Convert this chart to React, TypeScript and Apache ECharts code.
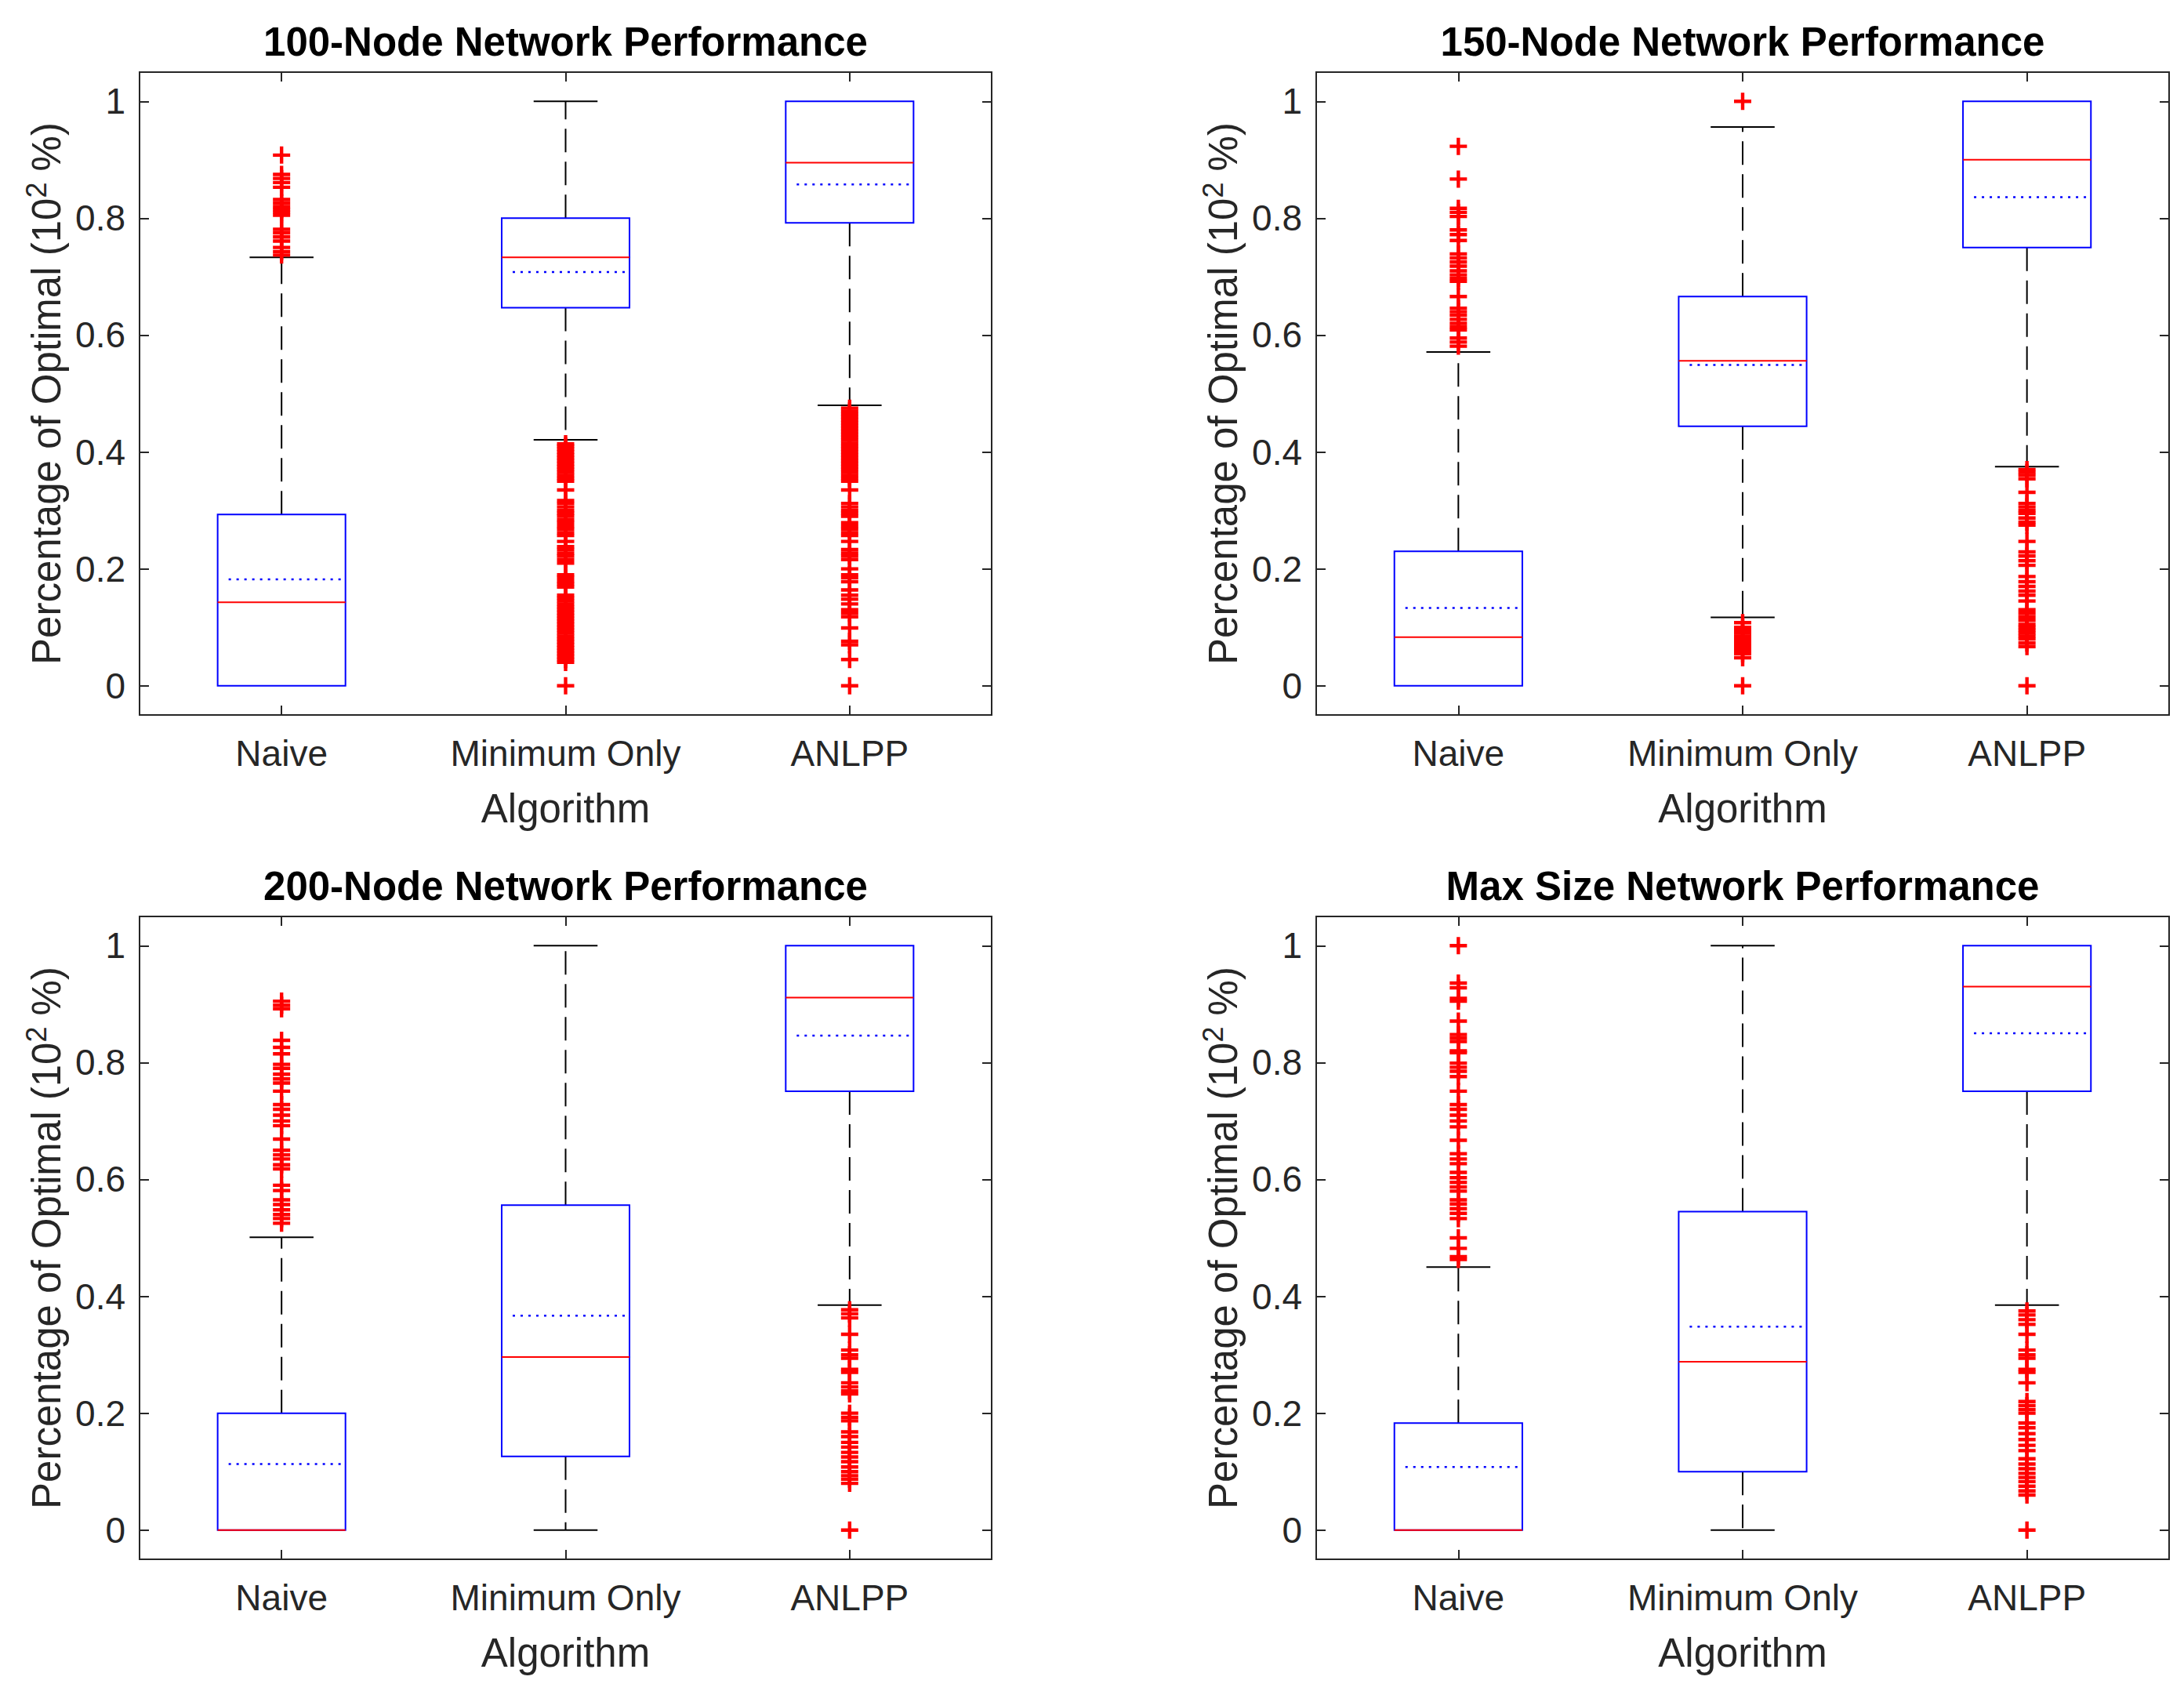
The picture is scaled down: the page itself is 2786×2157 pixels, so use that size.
import React, { useEffect, useRef } from 'react';
import * as echarts from 'echarts';

const categories = ['Naive', 'Minimum Only', 'ANLPP'];
const titles = [
  '100-Node Network Performance',
  '150-Node Network Performance',
  '200-Node Network Performance',
  'Max Size Network Performance',
];
const yTicks = [0, 0.2, 0.4, 0.6, 0.8, 1];
const yName = '{a|Percentage of Optimal (10}{s|2}{a| %)}';
const xName = 'Algorithm';

// per category: [lowerWhisker, Q1, median, Q3, upperWhisker, mean]
const stats100 = [
  [0, 0, 0.143, 0.293, 0.733, 0.182],
  [0.421, 0.647, 0.733, 0.8, 1.0, 0.708],
  [0.48, 0.792, 0.895, 1.0, 1.0, 0.858],
];
const stats150 = [
  [0, 0, 0.083, 0.23, 0.571, 0.133],
  [0.117, 0.444, 0.556, 0.666, 0.956, 0.549],
  [0.375, 0.75, 0.9, 1.0, 1.0, 0.836],
];
const stats200 = [
  [0, 0, 0, 0.2, 0.501, 0.113],
  [0, 0.126, 0.296, 0.556, 1.0, 0.367],
  [0.385, 0.751, 0.911, 1.0, 1.0, 0.846],
];
const statsMax = [
  [0, 0, 0, 0.183, 0.45, 0.108],
  [0, 0.1, 0.288, 0.545, 1.0, 0.348],
  [0.385, 0.751, 0.93, 1.0, 1.0, 0.85],
];

const out100Naive = [0.908, 0.875, 0.868, 0.861, 0.853, 0.832, 0.826, 0.82, 0.815, 0.81, 0.805, 0.781, 0.775, 0.768, 0.761, 0.75, 0.743, 0.737];
const out100Min = [0.414, 0.41, 0.405, 0.4, 0.395, 0.39, 0.385, 0.38, 0.375, 0.37, 0.365, 0.36, 0.355, 0.35, 0.335, 0.317, 0.312, 0.306, 0.3, 0.295, 0.29, 0.284, 0.279, 0.273, 0.268, 0.262, 0.257, 0.247, 0.238, 0.233, 0.227, 0.222, 0.216, 0.21, 0.19, 0.185, 0.179, 0.174, 0.169, 0.155, 0.15, 0.145, 0.14, 0.135, 0.13, 0.125, 0.12, 0.115, 0.11, 0.105, 0.1, 0.095, 0.09, 0.085, 0.08, 0.075, 0.07, 0.065, 0.06, 0.055, 0.05, 0.045, 0.04, 0];
const out100Anlpp = [0.475, 0.47, 0.465, 0.46, 0.455, 0.45, 0.445, 0.44, 0.435, 0.43, 0.425, 0.42, 0.415, 0.41, 0.405, 0.4, 0.395, 0.39, 0.385, 0.38, 0.375, 0.37, 0.365, 0.36, 0.355, 0.35, 0.335, 0.312, 0.306, 0.3, 0.295, 0.29, 0.279, 0.273, 0.268, 0.262, 0.257, 0.247, 0.233, 0.227, 0.222, 0.216, 0.2, 0.19, 0.185, 0.178, 0.164, 0.155, 0.148, 0.14, 0.13, 0.124, 0.118, 0.099, 0.076, 0.07, 0.045, 0];

const out150Naive = [0.923, 0.867, 0.817, 0.81, 0.803, 0.78, 0.772, 0.762, 0.739, 0.732, 0.725, 0.718, 0.71, 0.703, 0.697, 0.692, 0.666, 0.646, 0.64, 0.634, 0.627, 0.62, 0.614, 0.609, 0.595, 0.588, 0.581];
const out150Min = [1.0, 0.108, 0.1, 0.095, 0.09, 0.085, 0.08, 0.075, 0.07, 0.065, 0.06, 0.055, 0.048, 0];
const out150Anlpp = [0.37, 0.365, 0.36, 0.354, 0.331, 0.312, 0.306, 0.3, 0.295, 0.287, 0.28, 0.275, 0.247, 0.229, 0.222, 0.214, 0.206, 0.187, 0.178, 0.17, 0.162, 0.155, 0.145, 0.13, 0.124, 0.118, 0.112, 0.105, 0.1, 0.095, 0.09, 0.085, 0.08, 0.073, 0.067, 0];

const out200Naive = [0.905, 0.898, 0.892, 0.838, 0.826, 0.815, 0.797, 0.79, 0.78, 0.772, 0.765, 0.751, 0.728, 0.72, 0.71, 0.7, 0.692, 0.669, 0.65, 0.642, 0.635, 0.625, 0.618, 0.59, 0.581, 0.565, 0.557, 0.548, 0.54, 0.533, 0.525];
const out200Min: number[] = [];
const out200Anlpp = [0.377, 0.37, 0.363, 0.335, 0.308, 0.3, 0.294, 0.275, 0.27, 0.252, 0.245, 0.238, 0.233, 0.2, 0.193, 0.187, 0.168, 0.16, 0.15, 0.142, 0.133, 0.125, 0.117, 0.108, 0.1, 0.093, 0.087, 0.08, 0];

const outMaxNaive = [1.0, 0.936, 0.928, 0.91, 0.905, 0.871, 0.848, 0.842, 0.836, 0.82, 0.817, 0.799, 0.792, 0.785, 0.776, 0.751, 0.728, 0.72, 0.71, 0.7, 0.69, 0.667, 0.644, 0.635, 0.627, 0.612, 0.603, 0.595, 0.587, 0.58, 0.565, 0.558, 0.55, 0.542, 0.533, 0.5, 0.482, 0.468, 0.463];
const outMaxMin: number[] = [];
const outMaxAnlpp = [0.375, 0.368, 0.36, 0.352, 0.335, 0.308, 0.3, 0.294, 0.275, 0.27, 0.252, 0.22, 0.213, 0.206, 0.2, 0.183, 0.175, 0.165, 0.155, 0.145, 0.136, 0.122, 0.113, 0.105, 0.097, 0.09, 0.083, 0.075, 0.067, 0.06, 0];

const allStats = [stats100, stats150, stats200, statsMax];
const allOutliers = [
  [out100Naive, out100Min, out100Anlpp],
  [out150Naive, out150Min, out150Anlpp],
  [out200Naive, out200Min, out200Anlpp],
  [outMaxNaive, outMaxMin, outMaxAnlpp],
];

const FONT = '"Liberation Sans", Arial, Helvetica, sans-serif';
const AX = '#262626';
const PLUS = 'path://M0,40 H100 V60 H0 Z M40,0 H60 V100 H40 Z';

const gridRects = [
  { left: 178, top: 92, width: 1087, height: 820 },
  { left: 1679, top: 92, width: 1088, height: 820 },
  { left: 178, top: 1169, width: 1087, height: 820 },
  { left: 1679, top: 1169, width: 1088, height: 820 },
];

function renderBox(params: any, api: any) {
  const xi = api.value(0);
  const lw = api.value(1), q1 = api.value(2), med = api.value(3), q3 = api.value(4), uw = api.value(5), mean = api.value(6);
  const cx = api.coord([xi, 0])[0];
  const bw = api.size([1, 0])[0] * 0.45;
  const y = (v: number) => api.coord([xi, v])[1];
  const children: any[] = [];
  const dash = { stroke: '#000', lineWidth: 2, lineDash: [30, 12], fill: null };
  if (uw > q3) {
    children.push({ type: 'line', shape: { x1: cx, y1: y(q3), x2: cx, y2: y(uw) }, style: dash });
    children.push({ type: 'line', shape: { x1: cx - bw / 4, y1: y(uw), x2: cx + bw / 4, y2: y(uw) }, style: { stroke: '#000', lineWidth: 2 } });
  }
  if (lw < q1) {
    children.push({ type: 'line', shape: { x1: cx, y1: y(q1), x2: cx, y2: y(lw) }, style: dash });
    children.push({ type: 'line', shape: { x1: cx - bw / 4, y1: y(lw), x2: cx + bw / 4, y2: y(lw) }, style: { stroke: '#000', lineWidth: 2 } });
  }
  children.push({ type: 'rect', shape: { x: cx - bw / 2, y: y(q3), width: bw, height: y(q1) - y(q3) }, style: { stroke: '#0000ff', lineWidth: 2, fill: 'none' } });
  children.push({ type: 'line', shape: { x1: cx - bw / 2, y1: y(med), x2: cx + bw / 2, y2: y(med) }, style: { stroke: '#ff0000', lineWidth: 2 } });
  children.push({ type: 'line', shape: { x1: cx - bw / 2 + 14, y1: y(mean), x2: cx + bw / 2, y2: y(mean) }, style: { stroke: '#0000ff', lineWidth: 2.5, lineDash: [3, 7] } });
  return { type: 'group', children };
}

export default function App() {
  const ref = useRef<HTMLDivElement>(null);
  useEffect(() => {
    document.body.style.margin = '0';
    const chart = echarts.init(ref.current!, null, { renderer: 'svg' });
    const grid: any[] = [];
    const xAxis: any[] = [];
    const yAxis: any[] = [];
    const series: any[] = [];
    const graphic: any[] = [];
    gridRects.forEach((g, i) => {
      grid.push({ ...g, show: true, borderColor: AX, borderWidth: 2, backgroundColor: '#fff' });
      graphic.push({
        type: 'text',
        x: g.left + g.width / 2,
        y: g.top - 39,
        style: {
          text: titles[i],
          fontFamily: FONT,
          fontSize: 51,
          fontWeight: 'bold',
          fill: '#000',
          align: 'center',
          verticalAlign: 'middle',
        },
      });
    });
    gridRects.forEach((g, i) => {
      xAxis.push({
        type: 'category',
        gridIndex: i,
        data: categories,
        position: 'bottom',
        boundaryGap: true,
        axisLine: { show: false, onZero: false },
        axisTick: { show: true, inside: true, alignWithLabel: true, length: 12, lineStyle: { color: AX, width: 2 } },
        axisLabel: { fontFamily: FONT, fontSize: 46, color: AX, margin: 26, interval: 0, hideOverlap: false },
        name: xName,
        nameLocation: 'middle',
        nameGap: 94,
        nameTextStyle: { fontFamily: FONT, fontSize: 51, color: AX },
        splitLine: { show: false },
      });
    });
    gridRects.forEach((g, i) => {
      xAxis.push({
        type: 'category',
        gridIndex: i,
        data: categories,
        position: 'top',
        boundaryGap: true,
        axisLine: { show: false, onZero: false },
        axisTick: { show: true, inside: true, alignWithLabel: true, length: 12, lineStyle: { color: AX, width: 2 } },
        axisLabel: { show: false, interval: 0 },
        splitLine: { show: false },
      });
    });
    gridRects.forEach((g, i) => {
      yAxis.push({
        type: 'value',
        gridIndex: i,
        min: -0.05,
        max: 1.05,
        position: 'left',
        axisLine: { show: false, onZero: false },
        axisTick: { show: true, inside: true, length: 12, customValues: yTicks, lineStyle: { color: AX, width: 2 } },
        axisLabel: { fontFamily: FONT, fontSize: 46, color: AX, margin: 18, customValues: yTicks, formatter: (v: number) => String(Math.round(v * 10) / 10) },
        splitLine: { show: false },
        name: yName,
        nameLocation: 'middle',
        nameRotate: 90,
        nameGap: 88,
        nameTextStyle: {
          fontFamily: FONT,
          color: AX,
          rich: {
            a: { fontFamily: FONT, fontSize: 51, color: AX, lineHeight: 62 },
            s: { fontFamily: FONT, fontSize: 36, color: AX, verticalAlign: 'top', lineHeight: 30 },
          },
        },
      });
    });
    gridRects.forEach((g, i) => {
      yAxis.push({
        type: 'value',
        gridIndex: i,
        min: -0.05,
        max: 1.05,
        position: 'right',
        axisLine: { show: false, onZero: false },
        axisTick: { show: true, inside: true, length: 12, customValues: yTicks, lineStyle: { color: AX, width: 2 } },
        axisLabel: { show: false, customValues: yTicks },
        splitLine: { show: false },
      });
    });
    allStats.forEach((st, i) => {
      series.push({
        type: 'custom',
        xAxisIndex: i,
        yAxisIndex: i,
        renderItem: renderBox,
        clip: false,
        encode: { x: 0, y: [1, 2, 3, 4, 5, 6] },
        data: st.map((s, ci) => [ci, ...s]),
        z: 2,
      });
      const pts: number[][] = [];
      allOutliers[i].forEach((arr, ci) => arr.forEach((v) => pts.push([ci, v])));
      series.push({
        type: 'scatter',
        xAxisIndex: i,
        yAxisIndex: i,
        symbol: PLUS,
        symbolSize: 22,
        symbolKeepAspect: true,
        itemStyle: { color: '#ff0000', opacity: 1 },
        data: pts,
        z: 3,
      });
    });
    chart.setOption({
      animation: false,
      backgroundColor: '#fff',
      grid,
      xAxis,
      yAxis,
      series,
      graphic,
    });
    return () => chart.dispose();
  }, []);
  return <div ref={ref} style={{ width: 2786, height: 2157 }} />;
}
